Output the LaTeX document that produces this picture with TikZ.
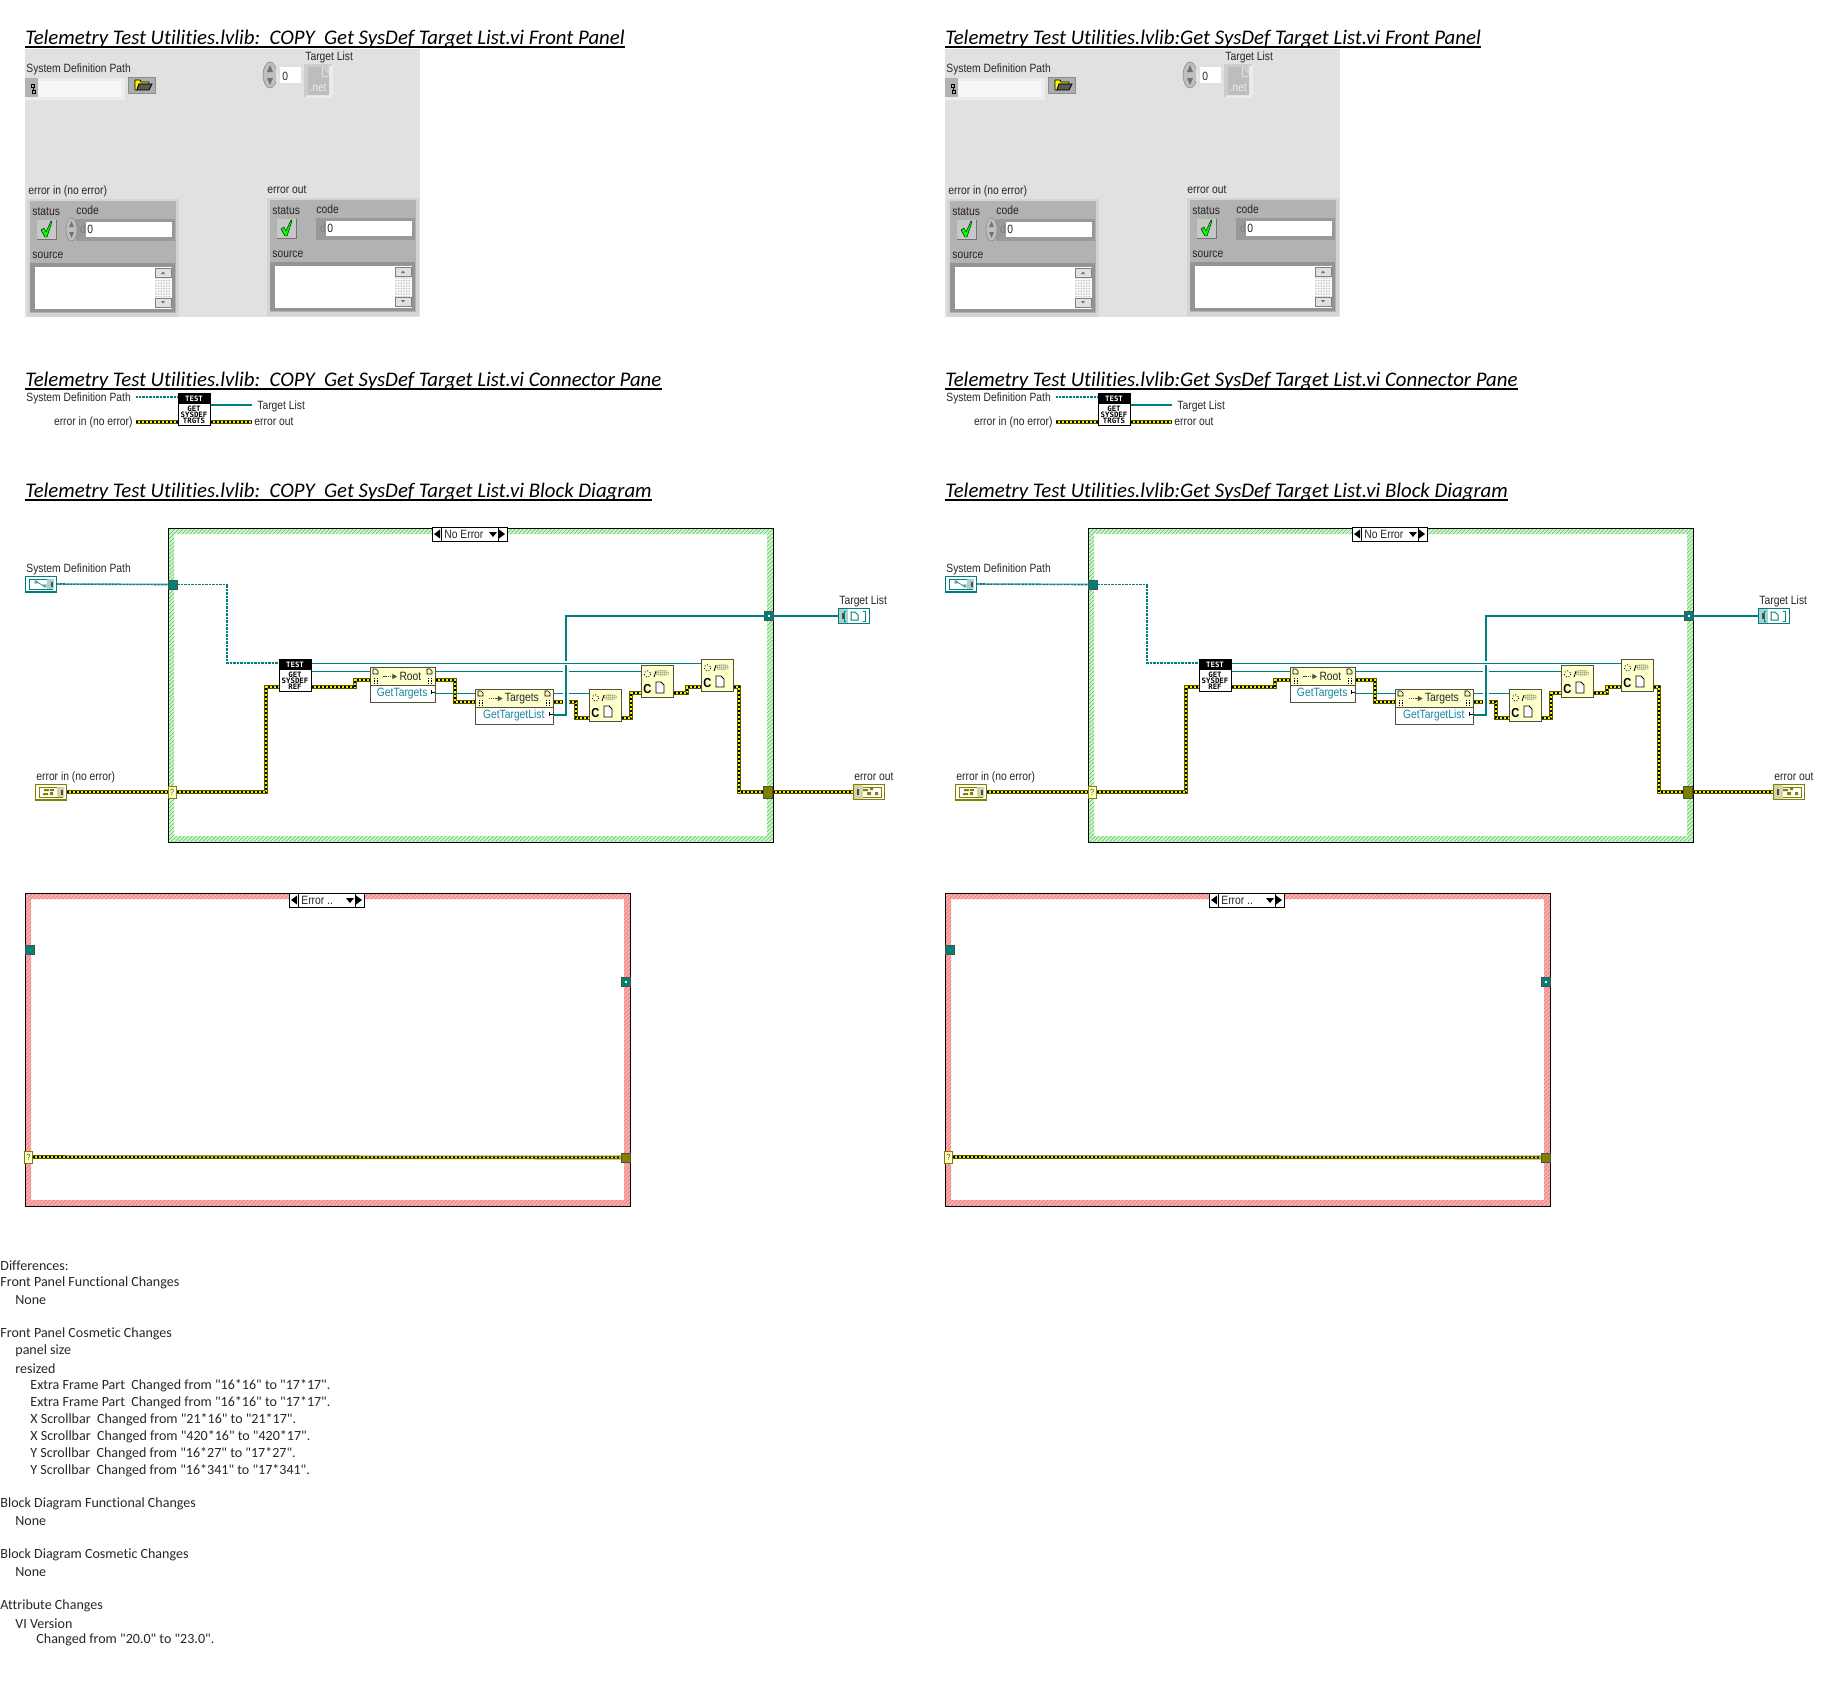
\documentclass[tikz,border=0pt]{standalone}
\usepackage{fontspec}
\newfontfamily\lvface[FakeStretch=0.86]{Liberation Sans}
\newfontfamily\noteface[Ligatures=NoCommon]{Carlito}
\newfontfamily\iconface{DejaVu Sans Mono}
\usetikzlibrary{calc, positioning}
\usetikzlibrary{patterns.meta}

\definecolor{panelgray}{HTML}{E1E1E1}
\definecolor{clustergray}{HTML}{B2B2B2}
\definecolor{reftealc}{HTML}{007F7F}
\definecolor{errolive}{HTML}{808000}
\definecolor{edgedark}{HTML}{50503C}
\definecolor{propyellow}{HTML}{FFFFCC}
\definecolor{itemblue}{HTML}{1A86A0}

\tikzset{
  lvtext/.style={font=\lvface\fontsize{6}{7}\selectfont, inner sep=0pt, text=black!85},
  lvleft/.style={lvtext, anchor=west},
  titletext/.style={font=\noteface\itshape\fontsize{10.4}{12}\selectfont, inner sep=0pt, anchor=base west},
  titlerule/.style={line width=1pt},
  notetext/.style={font=\noteface\fontsize{7.02}{9}\selectfont, inner sep=0pt, anchor=west, text=black!85},
  pathwire/.style={draw=reftealc, line width=.8pt, dash pattern=on .5pt off .2pt},
  refwire/.style={draw=reftealc, line width=.5pt},
  listwire/.style={draw=reftealc, line width=1.4pt},
  errwire/.style={draw=errolive!70!black, line width=1.8pt, line join=miter,
    postaction={draw=yellow, line width=.9pt},
    postaction={draw=black, line width=.9pt, dash pattern=on 1pt off 1pt}},
  tunnel/.style={draw=edgedark, line width=.5pt, inner sep=0pt, minimum width=4.5pt, minimum height=4.5pt},
  reftunnel/.style={tunnel, fill=reftealc},
  errtunnel/.style={tunnel, fill=errolive, minimum height=6pt},
  asktunnel/.style={draw=errolive, line width=.5pt, fill=propyellow, inner sep=0pt, minimum width=4pt, minimum height=6pt, font=\lvface\fontsize{4.5}{5}\selectfont, text=errolive!70!black},
  termbox/.style={line width=.7pt, fill=white, inner sep=0pt, minimum width=15.5pt, minimum height=7.8pt},
  iconbox/.style={draw=black, line width=.5pt, fill=white, inner sep=0pt, minimum width=16pt, minimum height=16pt},
  iconhead/.style={fill=black, text=white, inner sep=0pt, minimum width=16pt, minimum height=5.6pt,
    font=\iconface\bfseries\fontsize{3.7}{4}\selectfont},
  iconbody/.style={inner sep=0pt, align=center, font=\iconface\bfseries\fontsize{3.7}{3.05}\selectfont},
  propbody/.style={draw=edgedark, line width=.5pt, fill=white, inner sep=0pt, minimum height=17.5pt},
  prophead/.style={draw=edgedark, line width=.5pt, fill=propyellow, inner sep=0pt, minimum height=9pt},
  convbox/.style={draw=edgedark, line width=.5pt, fill=propyellow, inner sep=0pt, minimum width=16pt, minimum height=16pt},
  selbox/.style={draw=black, line width=.5pt, fill=white, inner sep=0pt, minimum height=7.2pt},
  spinner/.style={draw=black!45, line width=.3pt, fill=black!25},
}

% one case frame: left, top, right, bottom, frame width, base colour, stripe colour
\newcommand\caseframe[7]{
  \fill[#6, even odd rule] (#1,#2) rectangle (#3,#4) (#1+#5,#2+#5) rectangle (#3-#5,#4-#5);
  \fill[pattern={Lines[angle=45, distance=1.4pt, line width=.35pt]}, pattern color=#7, even odd rule]
    (#1,#2) rectangle (#3,#4) (#1+#5,#2+#5) rectangle (#3-#5,#4-#5);
  \draw[line width=.5pt] (#1,#2) rectangle (#3,#4);
}

% selector on top of a case frame
\newcommand\casesel[4]{
  \node[selbox, minimum width=37.5pt, anchor=north west] (#1) at (#2,#3) {};
  \draw[line width=.5pt] (#2+9,#3) -- (#2+9,#3+14.5) (#2+66,#3) -- (#2+66,#3+14.5);
  \fill (#2+2,#3+7) -- (#2+8,#3+2.5) -- (#2+8,#3+11.5) -- cycle;
  \fill (#2+73,#3+7) -- (#2+67,#3+2.5) -- (#2+67,#3+11.5) -- cycle;
  \fill (#2+57,#3+5) -- (#2+65,#3+5) -- (#2+61,#3+10) -- cycle;
  \node[lvleft] (#1-text) at (#2+12,#3+7) {#4};
}

% black and white subVI icon
\newcommand\lvicon[4]{
  \node[iconbox] (#1) at (#2) {};
  \node[iconhead, anchor=north] (#1-head) at (#1.north) {#3};
  \node[iconbody] (#1-body) at ([yshift=-2.7pt]#1.center) {#4};
}

% property node
\newcommand\propnode[6]{
  \node[propbody, anchor=north west, minimum width={(#4-#2)*0.5pt}] (#1) at (#2,#3) {};
  \node[prophead, anchor=north west, minimum width={(#4-#2)*0.5pt}] (#1-top) at (#2,#3) {};
  \node[lvtext] (#1-name) at ([xshift=3.7pt]#1-top.center) {#5};
  \node[lvtext, text=itemblue] (#1-item) at ([yshift=-4.25pt, xshift=-.4pt]#1.center) {#6};
  \draw[line width=.3pt] (#2+3,#3+7) -- (#2+3,#3+2) -- (#2+6,#3+2) -- (#2+8,#3+4) -- (#2+8,#3+7) -- cycle;
  \draw[line width=.3pt] (#4-8,#3+7) -- (#4-8,#3+2) -- (#4-5,#3+2) -- (#4-3,#3+4) -- (#4-3,#3+7) -- cycle;
  \draw[line width=.4pt, dash pattern=on .5pt off .3pt] (#2+4,#3+11) -- (#2+4,#3+16) (#2+7,#3+11) -- (#2+7,#3+16) (#4-7,#3+11) -- (#4-7,#3+16) (#4-4,#3+11) -- (#4-4,#3+16);
  \draw[line width=.8pt, edgedark, dash pattern=on .7pt off .4pt] ([xshift=-8pt]#1-name.west) -- ([xshift=-3pt]#1-name.west);
  \fill[edgedark] ([xshift=-3.4pt, yshift=1.4pt]#1-name.west) -- ([xshift=-1pt]#1-name.west) -- ([xshift=-3.4pt, yshift=-1.4pt]#1-name.west) -- cycle;
  \draw[line width=.35pt] (#4-4,#3+25) -- (#4,#3+25) (#4-4,#3+23) -- (#4-4,#3+27);
}

% small yellow conversion box
\newcommand\convnode[2]{
  \node[convbox] (#1) at (#2) {};
  \begin{scope}[shift={(#2)}]
    \draw[line width=.45pt, densely dotted] (-9.5,-7) circle [radius=3.2];
    \draw[line width=.4pt] (-3,-4) -- (-1,-10);
    \fill[pattern={Dots[distance=.9pt, radius=.3pt]}, pattern color=black] (5,-8) ellipse [x radius=7, y radius=3.2];
    \node[inner sep=0pt, font=\lvface\bfseries\fontsize{6.5}{7}\selectfont] (#1-c) at (-9.5,8.5) {C};
    \draw[line width=.4pt, fill=white] (-1,12) -- (-1,1) -- (4,1) -- (7,4) -- (7,12) -- cycle;
  \end{scope}
}

% front panel error cluster
\newcommand\errcluster[3]{
  \begin{scope}[shift={(#2,#3)}]
    \fill[black!17] (0,0) rectangle (152,118);
    \fill[clustergray] (3,2) rectangle (149,114);
    \node[lvleft] (#1-status) at (5,13) {status};
    \node[lvleft] (#1-code) at (49,11.5) {code};
    \fill[black!22] (10,21) rectangle (29,40);
    \draw[black!55, line width=.5pt] (29,21) -- (29,40) -- (10,40);
    \filldraw[fill=green, draw=black, line width=.2pt] (14,31) -- (17,29) -- (19,33) -- (24,22) -- (25,23) -- (20,38) -- (18,38) -- cycle;
    \fill[black!40] (49,20) rectangle (148,42);
    \fill[white] (59,23) rectangle (145,38);
    \node[lvtext, text=black!50] (#1-d) at (56,30.5) {d};
    \node[lvleft] (#1-zero) at (60,30.5) {0};
    \node[lvleft] (#1-source) at (5,56) {source};
    \fill[black!42] (3,64) rectangle (148,113);
    \fill[white] (8,68) rectangle (145,110);
    \fill[pattern={Dots[distance=.8pt, radius=.2pt]}, pattern color=black!40] (128,69) rectangle (144,108);
    \filldraw[fill=black!12, draw=black!50, line width=.3pt] (128,69) rectangle (144,78);
    \filldraw[fill=black!12, draw=black!50, line width=.3pt] (128,99) rectangle (144,108);
    \fill[black!55] (134,75) -- (138,75) -- (136,72.5) -- cycle (134,102) -- (138,102) -- (136,104.5) -- cycle;
  \end{scope}
}

\begin{document}
\begin{tikzpicture}[x=0.5pt, y=-0.5pt]
\useasboundingbox (0,0) rectangle (1840,1682);

\foreach \dx/\p/\vi in {0/L/{Telemetry Test Utilities.lvlib:\ \ COPY\ \ Get SysDef Target List.vi},
    920/R/{Telemetry Test Utilities.lvlib:Get SysDef Target List.vi}} {
\begin{scope}[shift={(\dx,0)}, name prefix=\p-]

% headings
\node[titletext] (fptitle) at (25,44) {\vi\ Front Panel};
\draw[titlerule] ([yshift=-1.6pt]fptitle.base west) -- ([yshift=-1.6pt]fptitle.base east);
\node[titletext] (cptitle) at (25,386) {\vi\ Connector Pane};
\draw[titlerule] ([yshift=-1.6pt]cptitle.base west) -- ([yshift=-1.6pt]cptitle.base east);
\node[titletext] (bdtitle) at (25,497) {\vi\ Block Diagram};
\draw[titlerule] ([yshift=-1.6pt]bdtitle.base west) -- ([yshift=-1.6pt]bdtitle.base east);

% front panel
\fill[panelgray] (25,49) rectangle (420,317);
\node[lvleft] (fppath) at (26,69) {System Definition Path};
\fill[black!7] (25,78) rectangle (125,100);
\fill[black!30] (25,78) rectangle (38,97);
\fill[black!3] (38,81) rectangle (121,97);
\draw[line width=.4pt] (31,84) rectangle (34,87) (33,87) -- (33,90) (32,90) rectangle (35,93);
\filldraw[fill=black!32, draw=black!45, line width=.3pt] (128,77) rectangle (155,93);
\filldraw[fill=yellow, draw=black, line width=.4pt] (135,90) -- (135,80) -- (140,80) -- (141,82) -- (149,82) -- (149,84) -- (139,84) -- (137,90) -- cycle;
\filldraw[fill=black!65, draw=black, line width=.4pt] (137,90) -- (139,84) -- (152,84) -- (149,90) -- cycle;

\node[lvleft] (fptarget) at (305,57) {Target List};
\fill[spinner] (270,75) ellipse [x radius=7, y radius=13];
\fill[black!55] (267,72) -- (273,72) -- (270,65) -- cycle (267,78) -- (273,78) -- (270,85) -- cycle;
\fill[black!12] (276,64) rectangle (304,86);
\fill[white] (280,67) rectangle (301,83);
\node[lvleft] (fpindex) at (282,76) {0};
\fill[black!20] (304,64) rectangle (333,98);
\fill[black!8] (333,98) -- (333,64) -- (329,67) -- (329,95) -- (308,95) -- (304,98) -- cycle;
\fill[black!26] (308,67) -- (322,67) -- (329,76) -- (329,95) -- (308,95) -- cycle;
\draw[black!12, line width=.3pt] (322,67) -- (322,76) -- (329,76);
\node[lvtext, text=black!8] (fpnet) at (318,88) {.net};

\node[lvleft] (fpeinlab) at (28,191) {error in (no error)};
\errcluster{fpein}{27}{199}
\node[lvleft] (fpeoutlab) at (267,190) {error out};
\errcluster{fpeout}{267}{198}
\fill[spinner] (71.5,229.5) ellipse [x radius=5.5, y radius=11.5];
\fill[black!55] (69,227) -- (74,227) -- (71.5,221) -- cycle (69,232) -- (74,232) -- (71.5,238) -- cycle;

% connector pane
\node[lvleft] (cppath) at (26,398) {System Definition Path};
\node[lvtext, anchor=east] (cpein) at (133,422) {error in (no error)};
\lvicon{cpicon}{194,409}{TEST}{GET\\SYSDEF\\TRGTS}
\node[lvleft] (cptarget) at (257,406) {Target List};
\node[lvleft] (cpeout) at (254,422) {error out};
\coordinate (cpa) at (136,397);
\coordinate (cpb) at (136,422);
\coordinate (cpc) at (252,405);
\coordinate (cpd) at (252,422);
\draw[pathwire] (cpa) -- (cpicon.west |- cpa);
\draw[errwire] (cpb) -- (cpicon.west |- cpb);
\draw[listwire] (cpicon.east |- cpc) -- (cpc);
\draw[errwire] (cpicon.east |- cpd) -- (cpd);

% block diagram, no error case
\caseframe{168}{528}{773}{842}{6}{green!22}{green!45!black!50}
\casesel{nesel}{432}{527}{No Error}

\node[lvleft] (syslab) at (26,569) {System Definition Path};
\node[termbox, draw=reftealc] (systerm) at (41,584) {};
\draw[reftealc, line width=.4pt] (29,579) rectangle (52,589);
\fill[reftealc!35] (47,579) rectangle (54,589);
\fill[black!70] (51,581.5) rectangle (52.5,586.5);
\draw[reftealc, line width=.3pt] (35,581) rectangle (37,583) (37,582) -- (44,586) (44,585) rectangle (46,587);
\node[lvleft] (einlab) at (36,777) {error in (no error)};
\node[termbox, draw=errolive] (einterm) at (51,792) {};
\draw[errolive, line width=.4pt] (39,787) rectangle (62,797);
\fill[errolive!35] (57,787) rectangle (64,797);
\fill[black!70] (61,789.5) rectangle (62.5,794.5);
\fill[errolive] (44,789) rectangle (49,791) (50,789) rectangle (54,791) (43,793) rectangle (48,795) (50,792) rectangle (53,795);

\node[lvleft] (tllab) at (839,601) {Target List};
\node[termbox, draw=reftealc, line width=.5pt] (tlterm) at (854,616) {};
\fill[reftealc!35] (839,609) rectangle (848,623);
\fill[black!70] (842,613) rectangle (843.5,619);
\draw[reftealc, line width=.4pt] (846,611) -- (844,611) -- (844,621) -- (846,621) (863,611) -- (865,611) -- (865,621) -- (863,621);
\draw[reftealc, line width=.5pt] (851,612) -- (855,612) -- (858,615) -- (858,620) -- (851,620) -- cycle;
\node[lvleft] (eoutlab) at (854,777) {error out};
\node[termbox, draw=errolive, line width=.5pt] (eoutterm) at (869,792) {};
\draw[errolive, line width=.4pt] (857,787) rectangle (881,797);
\fill[errolive!35] (854,785) rectangle (863,799);
\fill[black!70] (857,789) rectangle (858.5,795);
\fill[errolive] (863,789) rectangle (868,791) (870,788) rectangle (873,790) (867,792) rectangle (871,795) (875,792) rectangle (878,795);

\node[reftunnel] (nepath) at (173,584.5) {};
\node[asktunnel] (neask) at (172,792) {?};
\node[reftunnel] (nelist) at (768.5,616) {};
\fill[white] (767.5,615) rectangle (769.5,617);
\node[errtunnel] (neerr) at (768,792) {};

\lvicon{refvi}{295,675}{TEST}{GET\\SYSDEF\\REF}
\propnode{rootp}{370}{667}{435}{Root}{GetTargets}
\propnode{targp}{475}{689}{553}{Targets}{GetTargetList}
\convnode{convA}{605,705}
\convnode{convB}{657,681}
\convnode{convC}{717,675}

\draw[pathwire] (systerm.east) -- (nepath.west);
\draw[pathwire] (nepath.east) -| (227,663) -- (refvi.west |- 0,663);
\draw[errwire] (einterm.east) -- (neask.west);
\draw[errwire] (neask.east) -| (266,687) -- (refvi.west |- 0,687);
\draw[errwire] (refvi.east |- 0,687) -| (355,680) -- (rootp.west |- 0,680);
\draw[errwire] (rootp.east |- 0,680) -| (455,702) -- (targp.west |- 0,702);
\draw[errwire] (targp.east |- 0,702) -| (576,718) -- (convA.west |- 0,718);
\draw[errwire] (convA.east |- 0,718) -| (631,693) -- (convB.west |- 0,693);
\draw[errwire] (convB.east |- 0,693) -| (687,687) -- (convC.west |- 0,687);
\draw[errwire] (convC.east |- 0,687) -| (739,792) -- (neerr.west);
\draw[errwire] (neerr.east) -- (eoutterm.west);
\draw[refwire] (refvi.east |- 0,671) -- (rootp.west |- 0,671);
\draw[refwire] (rootp.east |- 0,671) -- (convB.west |- 0,671);
\draw[refwire] (rootp.east |- 0,693) -- (targp.west |- 0,693);
\draw[refwire] (targp.east |- 0,693) -- (convA.west |- 0,693);
\draw[listwire, preaction={draw=white, line width=2.6pt}] (targp.east |- 0,715) -| (566,616) -- (nelist.west);
\draw[listwire] (nelist.east) -- (tlterm.west);
\draw[refwire, preaction={draw=white, line width=1.8pt}] (refvi.east |- 0,663) -- (convC.west |- 0,663);

% block diagram, error case
\caseframe{25}{893}{630}{1206}{6}{red!32!white}{red!75!black!50}
\casesel{ersel}{289}{893}{Error ..}
\node[reftunnel] (erpath) at (29.5,949.5) {};
\node[reftunnel] (erlist) at (625.5,982) {};
\fill[white] (624.5,981) rectangle (626.5,983);
\node[asktunnel] (erask) at (28.5,1157) {?};
\node[errtunnel, minimum width=4.5pt, minimum height=4.5pt] (ererr) at (625.5,1157.5) {};
\draw[errwire] (erask.east) -- (ererr.west);

\end{scope}
}

% list of differences
\foreach \ii/\xx/\ln in {
  0/0/Differences:,
  1/0/Front Panel Functional Changes,
  2/15/None,
  4/0/Front Panel Cosmetic Changes,
  5/15/panel size,
  6/15/resized,
  7/30/Extra Frame Part\ \ Changed from "16*16" to "17*17".,
  8/30/Extra Frame Part\ \ Changed from "16*16" to "17*17".,
  9/30/X Scrollbar\ \ Changed from "21*16" to "21*17".,
  10/30/X Scrollbar\ \ Changed from "420*16" to "420*17".,
  11/30/Y Scrollbar\ \ Changed from "16*27" to "17*27".,
  12/30/Y Scrollbar\ \ Changed from "16*341" to "17*341".,
  14/0/Block Diagram Functional Changes,
  15/15/None,
  17/0/Block Diagram Cosmetic Changes,
  18/15/None,
  20/0/Attribute Changes,
  21/15/VI Version,
  22/36/Changed from "20.0" to "23.0".}
  \node[notetext] (diff\ii) at (\xx,1266.2+17*\ii) {\ln};
\end{tikzpicture}
\end{document}
